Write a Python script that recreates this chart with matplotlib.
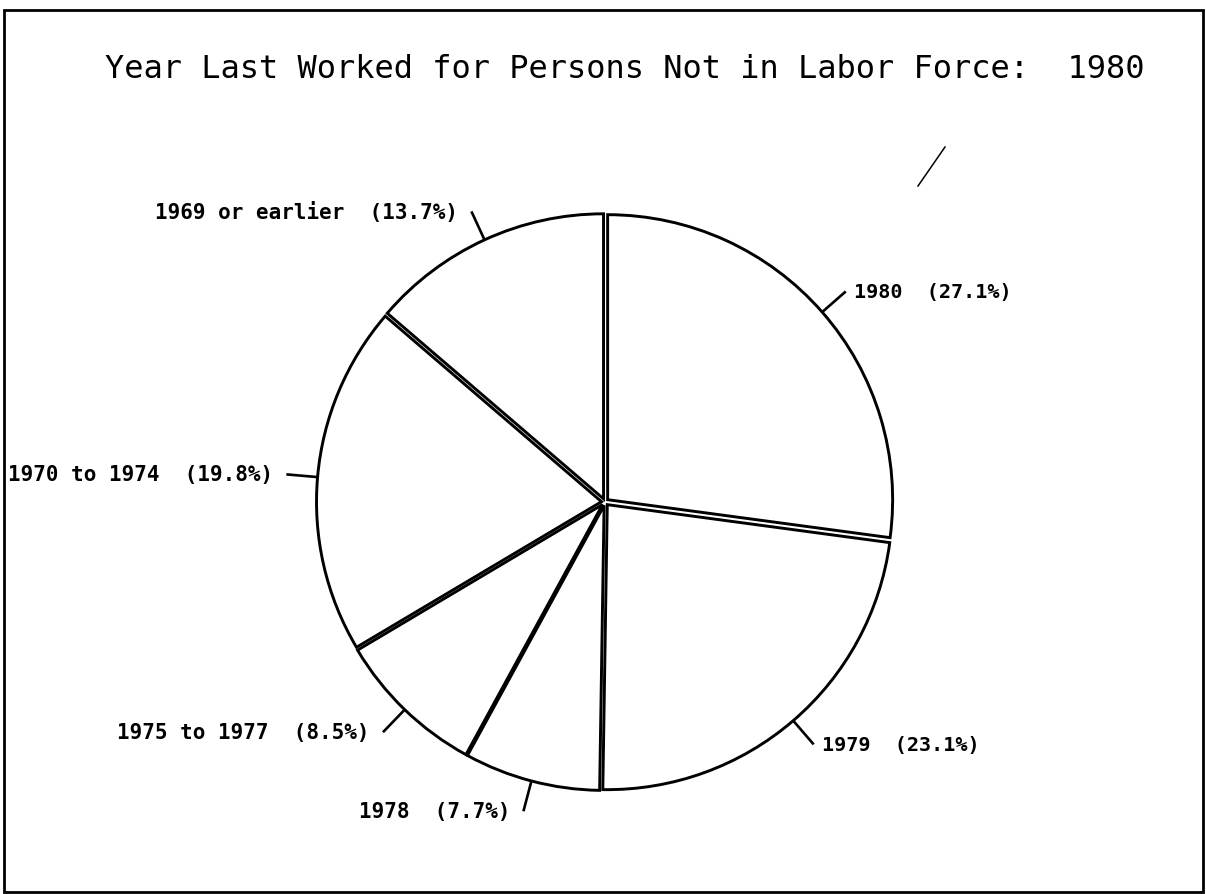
import numpy as np
import matplotlib.pyplot as plt
from matplotlib.patches import Rectangle

# Year last worked, shares in percent (clockwise from 12 o'clock)
years = ["1980", "1979", "1978", "1975 to 1977", "1970 to 1974", "1969 or earlier"]
shares = [27.1, 23.1, 7.7, 8.5, 19.8, 13.7]
title = "Year Last Worked for Persons Not in Labor Force:  1980"

W, H = 1206, 894
fig = plt.figure(figsize=(W / 100, H / 100), dpi=100)
ax = fig.add_axes([0, 0, 1, 1])

cx, cy, R = 605, H - 502, 285
wedges, _ = ax.pie(shares, startangle=90, counterclock=False,
                   center=(cx, cy), radius=R, explode=[3.5] * len(shares),
                   wedgeprops=dict(facecolor="white", edgecolor="black", linewidth=2.1))

ax.set_xlim(0, W)
ax.set_ylim(0, H)
ax.set_aspect("equal")
ax.axis("off")

# leader lines + labels
for w, yr, s in zip(wedges, years, shares):
    ang = np.deg2rad((w.theta1 + w.theta2) / 2)
    c, sn = np.cos(ang), np.sin(ang)
    x0, y0 = w.center[0] + R * c, w.center[1] + R * sn
    x1, y1 = w.center[0] + 1.11 * R * c, w.center[1] + 1.11 * R * sn
    ax.plot([x0, x1], [y0, y1], color="black", lw=1.9, solid_capstyle="butt")
    lab = f"{yr}  ({s}%)"
    if c >= 0:
        ax.text(x1 + 8, y1 - 1, lab, ha="left", va="center", fontsize=14.5,
                family="DejaVu Sans Mono", weight="bold")
    else:
        ax.text(x1 - 13, y1 - 1, lab, ha="right", va="center", fontsize=15,
                family="DejaVu Sans Mono", weight="bold")

ax.text(625, H - 70, title, ha="center", va="center", fontsize=23,
        family="DejaVu Sans Mono")

# stray pen stroke near top right
ax.plot([918, 945], [H - 186, H - 147], color="black", lw=1.1)

# page frame
ax.add_patch(Rectangle((4, 2), 1199, 882, fill=False, edgecolor="black", lw=2))

fig.savefig("out.png", dpi=100)
